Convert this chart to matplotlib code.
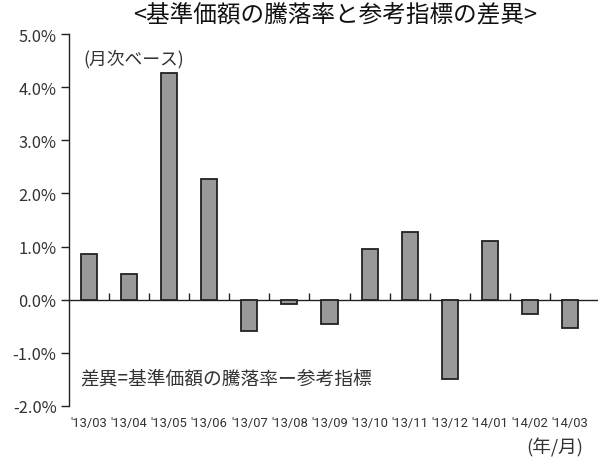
import numpy as np
import matplotlib.pyplot as plt

plt.rcParams['font.family'] = ['Noto Sans CJK JP', 'DejaVu Sans']

# monthly difference between fund return and benchmark (%)
months = ["'13/03", "'13/04", "'13/05", "'13/06", "'13/07", "'13/08", "'13/09",
          "'13/10", "'13/11", "'13/12", "'14/01", "'14/02", "'14/03"]
diff = [0.86, 0.49, 4.27, 2.27, -0.58, -0.08, -0.45,
        0.96, 1.28, -1.50, 1.11, -0.26, -0.53]
yticks = [-2, -1, 0, 1, 2, 3, 4, 5]

txt = '#333333'

fig = plt.figure(figsize=(5.98, 4.60), dpi=100)
ax = fig.add_axes([69/598, 1-407/460, 1-69/598, 372/460])

x = np.arange(len(months))
ax.bar(x, diff, width=0.4, color='#999999', edgecolor='#222222', linewidth=1.3, zorder=3)

ax.set_xlim(-0.5, 12.7)
ax.set_ylim(-2, 5)

# zero line with small ticks between months
ax.axhline(0, color='#222222', linewidth=1.0, zorder=2)
ax.vlines(x[:-1] + 0.5, 0, 0.12, color='#222222', linewidth=1.0, zorder=2)

for s in ['top', 'right', 'bottom']:
    ax.spines[s].set_visible(False)
ax.spines['left'].set_color('#222222')
ax.spines['left'].set_linewidth(1.0)

ax.set_yticks(yticks)
ax.set_yticklabels(['%.1f%%' % v for v in yticks], fontsize=11.8, color=txt)
ax.tick_params(axis='y', direction='out', length=6, width=1.0, color='#222222', pad=3)

ax.set_xticks(x)
ax.set_xticklabels(months, fontsize=9.4, color=txt, family=['Roboto', 'DejaVu Sans'])
ax.tick_params(axis='x', length=0, pad=7)

fig.text(0.56, 0.966, '<基準価額の騰落率と参考指標の差異>', ha='center', va='center',
         fontsize=17, color='#111111')
ax.text(0.027, 0.935, '(月次ベース)', transform=ax.transAxes, ha='left', va='center',
        fontsize=12.8, color=txt)
ax.text(0.022, 0.075, '差異=基準価額の騰落率ー参考指標', transform=ax.transAxes,
        ha='left', va='center', fontsize=13.5, color=txt)
fig.text(0.975, 0.026, '(年/月)', ha='right', va='center', fontsize=13.4, color=txt)

fig.savefig('out.png', dpi=100, facecolor='white')
